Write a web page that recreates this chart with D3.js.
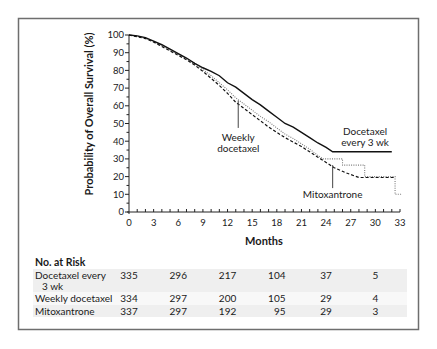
<!DOCTYPE html>
<html>
<head>
<meta charset="utf-8">
<script src="https://cdn.jsdelivr.net/npm/d3@7"></script>
<style>
  body { margin: 0; background: #fff; }
  svg text { font-family: Lato, "Open Sans", sans-serif; fill: #1a1a1a; }
</style>
</head>
<body>
<div id="chart"></div>
<script>
// Kaplan-Meier estimates, [month, % alive]
const docetaxel3wk = [[0,100],[1,99.5],[2,98.5],[3,96.5],[4,94.5],[5,92],[6,89.5],[7,87],[8,84],[9,81.5],
  [10,79.5],[11,77],[12,73],[13,70.5],[14,67],[15,63.5],[16,60.5],[17,57],[18,53.5],[19,50],[20,48],
  [21,45],[22,42],[23,39],[24,36.5],[24.8,34],[32,34]];
const weeklyDocetaxel = [[0,100],[1,99.5],[2,98],[3,96.5],[4,94],[5,91.5],[6,89],[7,86.5],[8,84],[9,80.5],
  [10,77],[11,73],[12,69],[13,64.5],[14,61],[15,57.5],[16,54],[17,51],[18,47.5],[19,44],[20,41.5],
  [21,38.5],[22,35.5],[23,32],[23.6,30],[26,30],[26,26.5],[28.7,26.5],[28.7,20],[32.4,20],[32.4,10],[33.2,10]];
const mitoxantrone = [[0,100],[1,99],[2,98],[3,96],[4,93.5],[5,91],[6,88.5],[7,86],[8,83],[9,79.5],
  [10,75.5],[11,71.5],[12,67],[13,62],[14,58.5],[15,55],[16,51.5],[17,48],[18,45],[19,42],[20,39.5],
  [21,37],[22,34],[23,31],[24,28],[25,25],[26.5,22],[28,19.5],[32.3,19.5]];

const xTicks = [0,3,6,9,12,15,18,21,24,27,30,33];
const yTicks = [0,10,20,30,40,50,60,70,80,90,100];

// numbers at risk, columns at these months
const riskMonths = [0,6,12,18,24,30];
const riskGroups = ["Docetaxel every|3 wk", "Weekly docetaxel", "Mitoxantrone"];
const riskCounts = [
  [335,296,217,104,37,5],
  [334,297,200,105,29,4],
  [337,297,192,95,29,3]
];

const W = 437, H = 349;
const svg = d3.select("#chart").append("svg").attr("width", W).attr("height", H);

// outer frame
svg.append("rect").attr("x", 18.5).attr("y", 18.5).attr("width", 400).attr("height", 311)
  .attr("fill", "none").attr("stroke", "#6e6e6e").attr("stroke-width", 1.5);

const x = d3.scaleLinear().domain([0, 33]).range([129, 400]);
const y = d3.scaleLinear().domain([0, 100]).range([212, 35]);

// y axis
const yAxis = svg.append("g").attr("transform", "translate(129,0)");
yAxis.append("line").attr("y1", y(100)).attr("y2", y(0) + 2).attr("stroke", "#222");
yAxis.selectAll(".maj").data(yTicks).enter().append("line")
  .attr("x1", -4).attr("x2", 0).attr("y1", d => y(d)).attr("y2", d => y(d)).attr("stroke", "#222");
yAxis.selectAll(".min").data(d3.range(5, 100, 10)).enter().append("line")
  .attr("x1", -2.5).attr("x2", 0).attr("y1", d => y(d)).attr("y2", d => y(d)).attr("stroke", "#222");
yAxis.selectAll("text").data(yTicks).enter().append("text")
  .attr("x", -5).attr("y", d => y(d)).attr("dy", "0.35em").attr("text-anchor", "end")
  .attr("font-size", 9.5).text(d => d);

// x axis, ticks every month pointing up
const xAxis = svg.append("g");
xAxis.append("line").attr("x1", x(0) - 2).attr("x2", x(33)).attr("y1", y(0)).attr("y2", y(0)).attr("stroke", "#222");
xAxis.selectAll(".tk").data(d3.range(1, 34)).enter().append("line")
  .attr("x1", d => x(d)).attr("x2", d => x(d)).attr("y1", y(0)).attr("y2", y(0) - 3).attr("stroke", "#222");
xAxis.selectAll("text").data(xTicks).enter().append("text")
  .attr("x", d => x(d)).attr("y", y(0) + 14).attr("text-anchor", "middle")
  .attr("font-size", 9.5).text(d => d);

svg.append("text").attr("x", 264).attr("y", 245).attr("text-anchor", "middle")
  .attr("font-size", 11).attr("font-weight", "bold").text("Months");
svg.append("text").attr("transform", "translate(93,114) rotate(-90)").attr("text-anchor", "middle")
  .attr("font-size", 11).attr("font-weight", "bold").text("Probability of Overall Survival (%)");

// survival curves
const line = d3.line().x(d => x(d[0])).y(d => y(d[1]));
svg.append("path").datum(weeklyDocetaxel).attr("d", line).attr("fill", "none")
  .attr("stroke", "#7a7a7a").attr("stroke-width", 1.1).attr("stroke-dasharray", "1,1.3");
svg.append("path").datum(mitoxantrone).attr("d", line).attr("fill", "none")
  .attr("stroke", "#111").attr("stroke-width", 1.2).attr("stroke-dasharray", "3,2");
svg.append("path").datum(docetaxel3wk).attr("d", line).attr("fill", "none")
  .attr("stroke", "#111").attr("stroke-width", 1.4);

// curve labels with leader lines
svg.append("line").attr("x1", x(13.3)).attr("x2", x(13.3)).attr("y1", y(63)).attr("y2", y(47.5)).attr("stroke", "#444");
const wk = svg.append("text").attr("text-anchor", "middle").attr("font-size", 10);
wk.append("tspan").attr("x", x(13.3)).attr("y", 141).text("Weekly");
wk.append("tspan").attr("x", x(13.3)).attr("y", 152).text("docetaxel");

const q3 = svg.append("text").attr("text-anchor", "middle").attr("font-size", 10);
q3.append("tspan").attr("x", 365).attr("y", 135).text("Docetaxel");
q3.append("tspan").attr("x", 365).attr("y", 146).text("every 3 wk");

svg.append("line").attr("x1", x(24.8)).attr("x2", x(24.8)).attr("y1", y(26.5)).attr("y2", y(13.5)).attr("stroke", "#444");
svg.append("text").attr("x", x(24.8)).attr("y", 198).attr("text-anchor", "middle")
  .attr("font-size", 10).text("Mitoxantrone");

// numbers-at-risk table
svg.append("text").attr("x", 35).attr("y", 266).attr("font-size", 10.5).attr("font-weight", "bold").text("No. at Risk");

const rowTop = [269, 292, 305];
const rowH = [23, 13, 12];
const rowFill = ["#efefef", "#f8f8f8", "#efefef"];
rowTop.forEach((t, i) => {
  svg.append("rect").attr("x", 33).attr("y", t).attr("width", 374).attr("height", rowH[i]).attr("fill", rowFill[i]);
});

riskGroups.forEach((g, i) => {
  const parts = g.split("|");
  svg.append("text").attr("x", 35).attr("y", rowTop[i] + 9.5).attr("font-size", 10).text(parts[0]);
  if (parts[1]) svg.append("text").attr("x", 42).attr("y", rowTop[i] + 21).attr("font-size", 10).text(parts[1]);
});

// counts right-aligned within each column, column centred on its month
riskMonths.forEach((m, j) => {
  const cells = riskCounts.map((row, i) => svg.append("text")
    .attr("y", rowTop[i] + 9.5).attr("font-size", 10).attr("text-anchor", "end").text(row[j]));
  const maxW = d3.max(cells, c => c.node().getComputedTextLength());
  cells.forEach(c => c.attr("x", x(m) + maxW / 2));
});
</script>
</body>
</html>
